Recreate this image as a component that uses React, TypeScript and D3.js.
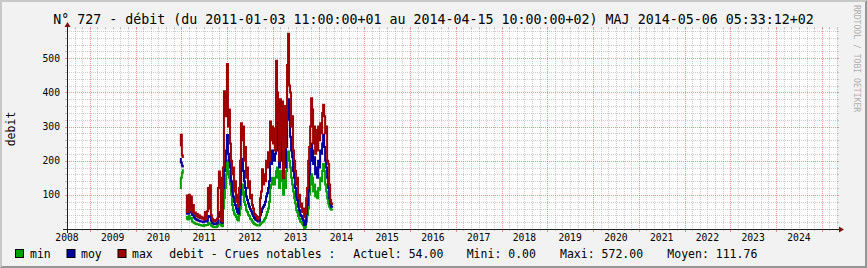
import React from "react";
import * as d3 from "d3";

const titleText =
  "N° 727 - débit (du 2011-01-03 11:00:00+01 au 2014-04-15 10:00:00+02) MAJ 2014-05-06 05:33:12+02";
const yAxisTitle = "debit";
const watermark = "RRDTOOL / TOBI OETIKER";

const yTicks = [100, 200, 300, 400, 500];
const yearLabels = [
  "2008", "2009", "2010", "2011", "2012", "2013", "2014", "2015", "2016",
  "2017", "2018", "2019", "2020", "2021", "2022", "2023", "2024",
];

// sampled every 8 days starting 2010-12-20 (null = no data)
const seriesStart = "2010-12-20";
const stepDays = 8;
const maxVals = [
  245, 276, 215, 208, null, null, 50, 98, 50, 100,
  55, 95, 50, 70, 45, 48, 38, 44, 34, 40,
  32, 36, 30, 34, 28, 50, 30, 52, 120, 60,
  128, 40, 30, 25, 22, 26, 24, 30, 120, 168,
  150, 25, 22, 180, 403, 330, 390, 483, 300, 350,
  250, 200, 160, 180, 110, 140, 80, 100, 65, 120,
  200, 310, 260, 300, 200, 240, 150, 180, 120, 140,
  90, 100, 70, 60, 45, 42, 38, 30, 28, 35,
  90, 110, 175, 130, 160, 140, 200, 180, 225, 200,
  315, 260, 300, 250, 295, 230, 493, 400, 320, 200,
  380, 260, 373, 150, 360, 240, 300, 480, 572, 420,
  400, 300, 330, 230, 200, 170, 130, 150, 90, 100,
  65, 75, 50, 60, 35, 45, 90, 120, 200, 240,
  300, 383, 350, 250, 300, 220, 290, 230, 300, 260,
  310, 280, 340, 364, 330, 280, 300, 200, 190, 130,
  85, 75, 70,
];
const moyVals = [
  205, 195, 185, 180, null, null, 45, 55, 45, 56,
  48, 52, 42, 40, 34, 30, 28, 26, 25, 24,
  23, 22, 22, 20, 22, 24, 22, 24, 38, 35,
  36, 24, 18, 16, 14, 15, 16, 18, 35, 45,
  50, 20, 18, 120, 170, 200, 230, 275, 220, 200,
  180, 140, 110, 95, 80, 70, 60, 50, 45, 70,
  100, 180, 205, 170, 140, 120, 95, 85, 75, 65,
  58, 52, 45, 38, 32, 28, 26, 24, 22, 24,
  40, 50, 60, 65, 70, 80, 95, 105, 120, 140,
  200, 190, 230, 210, 200, 220, 300, 315, 230, 180,
  260, 200, 227, 150, 220, 180, 240, 330, 380, 320,
  270, 230, 210, 170, 150, 120, 95, 85, 65, 55,
  42, 38, 30, 25, 12, 15, 45, 70, 110, 160,
  200, 250, 230, 190, 210, 160, 180, 150, 200, 180,
  230, 220, 250, 276, 240, 200, 180, 150, 120, 90,
  72, 65, 62,
];
const minVals = [
  120, 150, 165, 175, null, null, 30, 35, 28, 38,
  30, 32, 22, 20, 18, 16, 15, 14, 14, 12,
  12, 10, 10, 9, 12, 10, 12, 12, 18, 16,
  15, 10, 8, 6, 5, 5, 6, 8, 15, 20,
  25, 10, 8, 60, 90, 120, 160, 200, 170, 150,
  130, 100, 70, 55, 45, 40, 35, 28, 25, 40,
  60, 100, 130, 110, 80, 70, 55, 50, 42, 38,
  30, 28, 22, 18, 15, 13, 12, 10, 10, 11,
  15, 18, 20, 22, 28, 32, 40, 50, 60, 80,
  120, 130, 150, 140, 130, 150, 170, 180, 150, 120,
  170, 140, 160, 100, 150, 120, 170, 200, 227, 200,
  180, 150, 130, 110, 90, 75, 55, 50, 38, 30,
  22, 20, 15, 10, 2, 5, 22, 40, 60, 100,
  130, 160, 150, 110, 130, 95, 110, 90, 120, 115,
  150, 140, 170, 190, 170, 130, 110, 90, 75, 65,
  60, 56, 54,
];

const legendLabels = ["min", "moy", "max"];
const legendColors = ["#00A000", "#0000A0", "#A00000"];
const statLabels = ["debit - Crues notables :", "Actuel: 54.00", "Mini: 0.00", "Maxi: 572.00", "Moyen: 111.76"];

const W = 867;
const H = 268;
const X0 = 67;
const X1 = 837;
const Y0 = 229;
const Y1 = 29;
const FONT = "'DejaVu Sans Mono', monospace";

export default function App() {
  const start = new Date(2008, 6, 2);
  const end = new Date(2025, 4, 2);
  const x = d3.scaleTime().domain([start, end]).range([X0, X1]);
  const y = d3.scaleLinear().domain([0, 585.6]).range([Y0, Y1]);

  const t0 = d3.timeParse("%Y-%m-%d")(seriesStart) as Date;
  const dates = maxVals.map((_, i) => d3.timeDay.offset(t0, i * stepDays));

  const mk = (vals: (number | null)[]) =>
    d3
      .line<number | null>()
      .defined((d) => d !== null)
      .x((_, i) => x(dates[i]))
      .y((d) => y(d as number))
      .curve(d3.curveStepAfter)(vals) || "";

  const majorX = d3.timeYear.range(start, end);
  const minorX = d3.timeMonth.every(2)!.range(start, end).filter((d) => d.getMonth() !== 0);
  const minorY = d3.range(20, 586, 20).filter((v) => v % 100 !== 0);

  const px = (v: number) => Math.round(v) + 0.5;

  const minorCol = "rgba(143,143,143,0.46)";
  const majorCol = "rgba(222,80,64,0.59)";

  const legendX = [15, 66.5, 117.5];
  const legendTextX = [30, 81, 132];
  const statX = [169.3, 353.3, 466.7, 560, 667.3];

  return (
    <svg
      width={W}
      height={H}
      style={{ position: "absolute", left: 0, top: 0, display: "block" }}
      xmlns="http://www.w3.org/2000/svg"
    >
      <rect x={0} y={0} width={W} height={H} fill="#F2F2F2" />
      {/* bevel */}
      <polygon points={`0,${H} 2,${H - 2} 2,2 ${W - 2},2 ${W},0 0,0`} fill="#C8C8C8" />
      <polygon points={`2,${H - 2} ${W - 2},${H - 2} ${W - 2},2 ${W},0 ${W},${H} 0,${H}`} fill="#969696" />
      {/* canvas */}
      <rect x={X0} y={Y1} width={X1 - X0} height={Y0 - Y1} fill="#FFFFFF" />

      {/* minor grid */}
      {minorY.map((v) => (
        <g key={"my" + v}>
          <line x1={X0} x2={X1} y1={px(y(v))} y2={px(y(v))} stroke={minorCol} strokeDasharray="1,1" />
          <line x1={X0 - 2} x2={X0} y1={px(y(v))} y2={px(y(v))} stroke={minorCol} />
          <line x1={X1} x2={X1 + 2} y1={px(y(v))} y2={px(y(v))} stroke={minorCol} />
        </g>
      ))}
      {minorX.map((d) => (
        <g key={"mx" + d.getTime()}>
          <line x1={px(x(d))} x2={px(x(d))} y1={Y1} y2={Y0} stroke={minorCol} strokeDasharray="1,1" />
          <line x1={px(x(d))} x2={px(x(d))} y1={Y1 - 2} y2={Y1} stroke={minorCol} />
          <line x1={px(x(d))} x2={px(x(d))} y1={Y0} y2={Y0 + 2} stroke={minorCol} />
        </g>
      ))}
      {/* major grid */}
      {yTicks.map((v) => (
        <g key={"My" + v}>
          <line x1={X0} x2={X1} y1={px(y(v))} y2={px(y(v))} stroke={majorCol} strokeDasharray="1,1" />
          <line x1={X0 - 2} x2={X0} y1={px(y(v))} y2={px(y(v))} stroke={majorCol} />
          <line x1={X1} x2={X1 + 2} y1={px(y(v))} y2={px(y(v))} stroke={majorCol} />
        </g>
      ))}
      {majorX.map((d) => (
        <g key={"Mx" + d.getTime()}>
          <line x1={px(x(d))} x2={px(x(d))} y1={Y1} y2={Y0} stroke={majorCol} strokeDasharray="1,1" />
          <line x1={px(x(d))} x2={px(x(d))} y1={Y1 - 2} y2={Y1} stroke={majorCol} />
          <line x1={px(x(d))} x2={px(x(d))} y1={Y0} y2={Y0 + 3} stroke={majorCol} />
        </g>
      ))}

      {/* data */}
      <path d={mk(minVals)} fill="none" stroke={legendColors[0]} strokeWidth={2} />
      <path d={mk(moyVals)} fill="none" stroke={legendColors[1]} strokeWidth={2} />
      <path d={mk(maxVals)} fill="none" stroke={legendColors[2]} strokeWidth={2} />

      {/* axes */}
      <line x1={X0 - 4} x2={X1 + 4} y1={Y0 + 0.5} y2={Y0 + 0.5} stroke="#202020" />
      <line x1={X0 + 0.5} x2={X0 + 0.5} y1={Y0 + 4} y2={Y1 - 4} stroke="#202020" />
      <polygon
        points={`${X1 + 2},${Y0 - 3 + 0.5} ${X1 + 2},${Y0 + 3 + 0.5} ${X1 + 7},${Y0 + 0.5}`}
        fill="#801010"
      />
      <polygon
        points={`${X0 - 3 + 0.5},${Y1 - 2} ${X0 + 3 + 0.5},${Y1 - 2} ${X0 + 0.5},${Y1 - 7}`}
        fill="#801010"
      />

      {/* y labels */}
      {yTicks.map((v) => (
        <text
          key={"yl" + v}
          x={60}
          y={y(v) + 3.5}
          textAnchor="end"
          fontFamily={FONT}
          fontSize={9.7}
          fill="#000"
        >
          {v}
        </text>
      ))}
      {/* x labels */}
      {yearLabels.map((s) => (
        <text
          key={"xl" + s}
          x={x(new Date(+s, 6, 2))}
          y={241}
          textAnchor="middle"
          fontFamily={FONT}
          fontSize={9.7}
          fill="#000"
        >
          {s}
        </text>
      ))}

      {/* title */}
      <text x={W / 2} y={23.7} textAnchor="middle" fontFamily={FONT} fontSize={13.3} fill="#000">
        {titleText}
      </text>
      {/* y axis title */}
      <text
        transform={`translate(15,${(Y0 + Y1) / 2}) rotate(-90)`}
        textAnchor="middle"
        fontFamily={FONT}
        fontSize={11.5}
        fill="#000"
      >
        {yAxisTitle}
      </text>
      {/* watermark */}
      <text
        transform={`translate(854,5) rotate(90)`}
        textAnchor="start"
        fontFamily={FONT}
        fontSize={8.1}
        fill="#B0B0B0"
      >
        {watermark}
      </text>

      {/* legend */}
      {legendLabels.map((s, i) => (
        <g key={"lg" + s}>
          <rect x={legendX[i] + 0.5} y={249.5} width={8} height={8} fill={legendColors[i]} stroke="#000" />
          <text x={legendTextX[i]} y={257.5} fontFamily={FONT} fontSize={11.5} fill="#000">
            {s}
          </text>
        </g>
      ))}
      {statLabels.map((s, i) => (
        <text key={"st" + i} x={statX[i]} y={257.5} fontFamily={FONT} fontSize={11.5} fill="#000">
          {s}
        </text>
      ))}
    </svg>
  );
}
